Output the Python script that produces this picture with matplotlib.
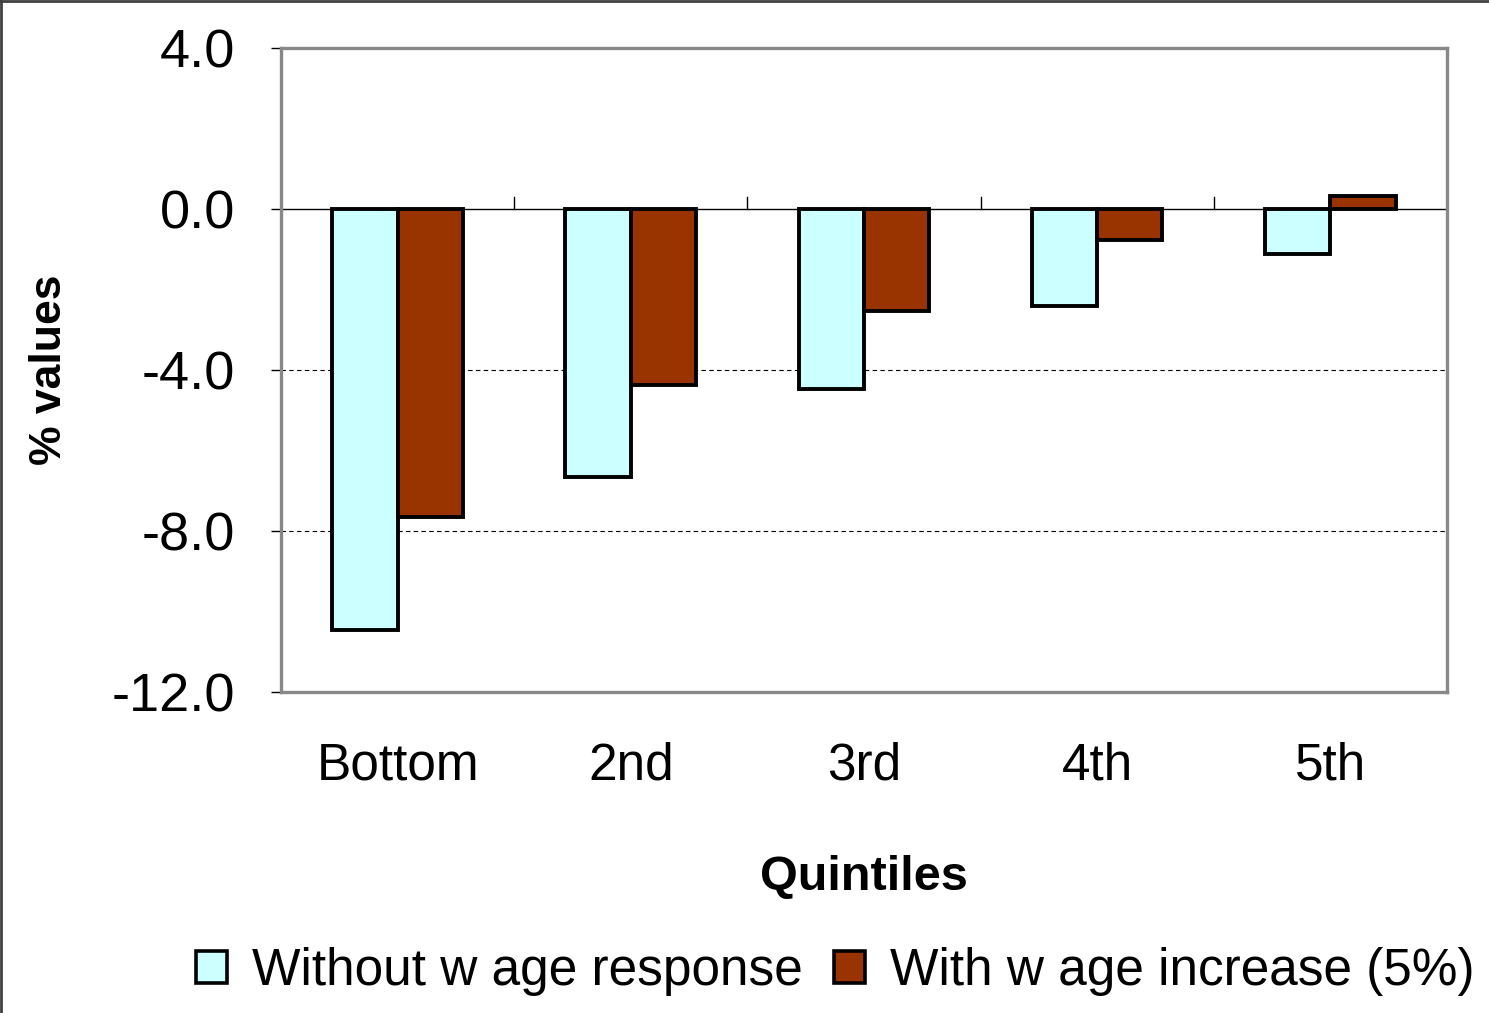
import matplotlib.pyplot as plt
import numpy as np
from matplotlib.lines import Line2D

plt.rcParams['font.family'] = ['Liberation Sans', 'DejaVu Sans']

categories = ['Bottom', '2nd', '3rd', '4th', '5th']
without_wage = [-10.46, -6.66, -4.47, -2.41, -1.12]
with_wage = [-7.65, -4.37, -2.53, -0.77, 0.32]
series_names = ['Without w age response', 'With w age increase (5%)']
y_ticks = [4.0, 0.0, -4.0, -8.0, -12.0]

fig = plt.figure(figsize=(14.89, 10.13), dpi=100)
ax = fig.add_axes([0.1887, 0.3169, 0.9718 - 0.1887, 0.9526 - 0.3169])

x = np.arange(len(categories))
w = 0.28
ax.bar(x - w / 2, without_wage, w, color='#CCFFFF', edgecolor='black', linewidth=2.8,
       label=series_names[0], zorder=3)
ax.bar(x + w / 2, with_wage, w, color='#993300', edgecolor='black', linewidth=2.8,
       label=series_names[1], zorder=3)

ax.set_xlim(-0.5, len(categories) - 0.5)
ax.set_ylim(-12, 4)
ax.set_yticks(y_ticks)
ax.set_yticklabels(['%.1f' % v for v in y_ticks])

# gridlines and zero line
for v in [-4, -8]:
    ax.axhline(v, color='black', lw=0.8, ls=(0, (4, 3)), zorder=1)
ax.axhline(0, color='black', lw=1.0, zorder=2)
# category boundary ticks on the zero line
for b in np.arange(0.5, len(categories), 1.0):
    ax.plot([b, b], [0, 0.3], color='black', lw=1.0, zorder=2)

for s in ax.spines.values():
    s.set_color('#888888')
    s.set_linewidth(2.4)

ax.tick_params(axis='y', direction='out', length=7, width=1, color='black',
               labelsize=39, pad=26)
ax.tick_params(axis='x', length=0, labelsize=37, pad=36)
ax.set_xticks(x)
ax.set_xticklabels(categories)

ax.set_xlabel('Quintiles', fontsize=35, fontweight='bold', labelpad=46)
ax.set_ylabel('% values', fontsize=32, fontweight='bold', labelpad=30)

handles = [plt.Rectangle((0, 0), 1, 1, facecolor='#CCFFFF', edgecolor='black', linewidth=2.6),
           plt.Rectangle((0, 0), 1, 1, facecolor='#993300', edgecolor='black', linewidth=2.6)]
fig.legend(handles, series_names, loc='center', bbox_to_anchor=(0.561, 0.041), ncol=2,
           frameon=False, fontsize=37, handlelength=0.6, handleheight=0.6,
           handletextpad=0.5, columnspacing=0.6)

# outer frame (left and top edges visible)
fig.add_artist(Line2D([0.001, 0.001], [0, 1], transform=fig.transFigure, color='#404040', lw=2))
fig.add_artist(Line2D([0, 1], [0.999, 0.999], transform=fig.transFigure, color='#404040', lw=2))

fig.savefig('out.png', dpi=100)
